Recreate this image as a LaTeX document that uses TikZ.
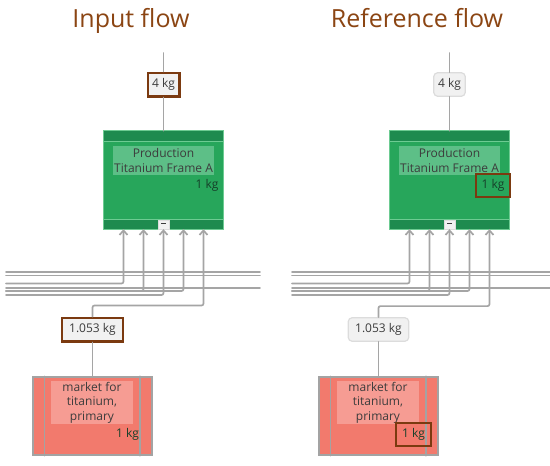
\documentclass[tikz,border=0pt]{standalone}
\usepackage{fontspec}
\setmainfont{Open Sans}
\usetikzlibrary{arrows.meta}

\definecolor{hlbrown}{HTML}{7B3A10}
\definecolor{titlebrown}{HTML}{8B4513}
\definecolor{wiregray}{HTML}{A5A5A5}
\definecolor{prodgreen}{HTML}{27A65B}
\definecolor{banddark}{HTML}{1E8B4F}
\definecolor{prodlight}{HTML}{5DBF87}
\definecolor{prodedge}{HTML}{6DCB92}
\definecolor{marketred}{HTML}{F27A6D}
\definecolor{marketlight}{HTML}{F69C93}
\definecolor{boxgray}{HTML}{A3A3A3}
\definecolor{labelfill}{HTML}{F1F1F1}
\definecolor{labeledge}{HTML}{DCDCDC}
\definecolor{nodetext}{HTML}{3C3C3C}
\definecolor{kgtext}{HTML}{16402A}

\tikzset{
  wire/.style={draw=wiregray, line width=1.7pt},
  paneltitle/.style={font=\fontsize{25}{28}\selectfont, text=titlebrown, anchor=base, inner sep=0pt},
  prodbox/.style={fill=prodgreen, minimum width=119pt, minimum height=98pt, inner sep=0pt},
  prodlabel/.style={fill=prodlight, minimum width=101pt, minimum height=29pt, inner sep=0pt,
                    align=center, font=\fontsize{12}{15}\selectfont, text=nodetext},
  marketbox/.style={fill=marketred, draw=boxgray, line width=1.5pt,
                    minimum width=119pt, minimum height=78pt, inner sep=0pt},
  marketlabel/.style={fill=marketlight, minimum width=82pt, minimum height=43pt, inner sep=0pt,
                      align=center, font=\fontsize{12}{14.5}\selectfont, text=nodetext},
  togglebtn/.style={fill=labelfill, draw=labeledge, line width=0.6pt,
                    minimum width=11pt, minimum height=9pt, inner sep=0pt},
  % amount labels on the wires
  amounta/.style={fill=labelfill, draw=hlbrown, line width=2.4pt, inner xsep=4.3pt,
                  minimum width=31.6pt, minimum height=23.6pt, font=\fontsize{12}{14}\selectfont, text=nodetext},
  amountb/.style={fill=labelfill, draw=labeledge, line width=1.2pt, rounded corners=4pt, inner xsep=4.3pt,
                  minimum width=31.6pt, minimum height=23.6pt, font=\fontsize{12}{14}\selectfont, text=nodetext},
  % reference amounts inside the boxes
  kga/.style={inner sep=0pt, font=\fontsize{12}{14}\selectfont, text=kgtext},
  kgb/.style={draw=hlbrown, line width=2.4pt, inner xsep=5.8pt, minimum height=23.5pt,
              font=\fontsize{12}{14}\selectfont, text=kgtext},
}

\begin{document}
\begin{tikzpicture}[x=1pt, y=-1pt, >={Straight Barb[length=4.5pt,width=8pt]},
                    line cap=round]
\useasboundingbox (0,0) rectangle (550,466);

\foreach \ox/\p/\ttl/\xe in {0/a/Input flow/260, 286/b/Reference flow/264}{
  \begin{scope}[xshift=\ox pt]
  \node[paneltitle] (title\p) at (131,27.7) {\ttl};

  % production process
  \coordinate (feed\p) at (163.5,53);
  \node[amount\p] (out\p) at (163.5,84.5) {4 kg};
  \node[prodbox] (prod\p) at (163.5,180) {};
  \fill[banddark] (prod\p.north west) rectangle ([yshift=-10pt]prod\p.north east);
  \fill[banddark] (prod\p.south west) rectangle ([yshift=10pt]prod\p.south east);
  \draw[prodedge, line width=0.6pt] ([yshift=-10pt]prod\p.north west) -- ([yshift=-10pt]prod\p.north east);
  \draw[prodedge, line width=0.6pt] ([yshift=10pt]prod\p.south west) -- ([yshift=10pt]prod\p.south east);
  \draw[prodedge, line width=0.8pt] (prod\p.north west) rectangle (prod\p.south east);
  \node[prodlabel] (plabel\p) at (163.5,160.5) {Production\\Titanium Frame A};
  \node[kg\p] (pkg\p) at (207,185.5) {1 kg};
  \node[togglebtn] (toggle\p) at (163.5,224.5) {\textcolor{nodetext}{\rule[2.5pt]{5pt}{1.1pt}}};

  \draw[wire] (feed\p) -- (out\p);
  \draw[wire] (out\p) -- (prod\p);

  % market process
  \node[amount\p, minimum width=60.6pt] (mamt\p) at (92.5,329.5) {1.053 kg};
  \node[marketbox] (mkt\p) at (92.5,416) {};
  \draw[boxgray, line width=1.5pt] ([xshift=12pt]mkt\p.north west) -- ([xshift=12pt]mkt\p.south west);
  \draw[boxgray, line width=1.5pt] ([xshift=-13pt]mkt\p.north east) -- ([xshift=-13pt]mkt\p.south east);
  \node[marketlabel] (mlabel\p) at (92,402.5) {market for\\titanium,\\primary};
  \node[kg\p] (mkg\p) at (127.5,434.5) {1 kg};

  \draw[wire] (mamt\p) -- (mkt\p);
  \draw[wire,->,rounded corners=2pt] (mamt\p.north) -- ++(0,-11) -| ([xshift=40pt]prod\p.south);

  % other inputs
  \foreach \k/\ly in {0/283.5, 1/291, 2/295, 3/291}{
    \coordinate (src\p\k) at (6,\ly);
    \draw[wire,->,rounded corners=2pt] (src\p\k) -| ([xshift={(\k-2)*20pt}]prod\p.south);
  }
  \foreach \ly in {272,275.5,288}{
    \coordinate (left\p) at (6,\ly);
    \coordinate (right\p) at (\xe,\ly);
    \draw[wire] (left\p) -- (right\p);
  }
  \end{scope}
}
\end{tikzpicture}
\end{document}
